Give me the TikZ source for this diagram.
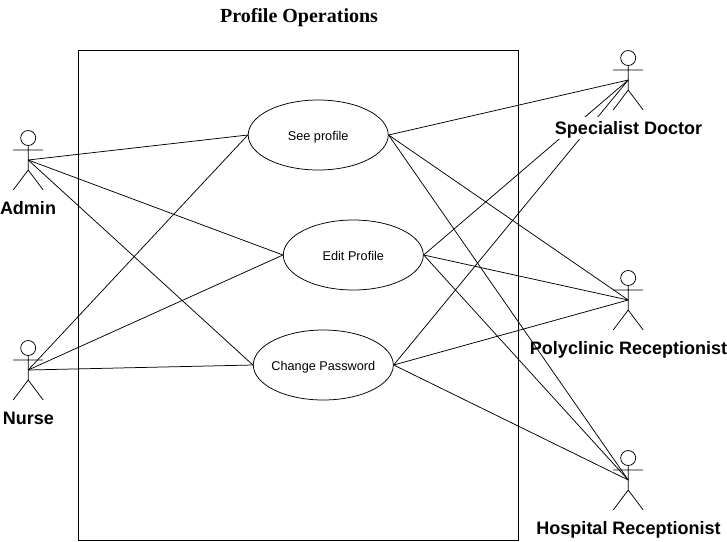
\documentclass[tikz,border=0pt]{standalone}
\usepackage{fontspec}
\usetikzlibrary{shapes.geometric}
\setmainfont{Liberation Sans}
\newfontfamily\serifb{Liberation Serif}
\tikzset{
  x=1pt,y=-1pt,
  line/.style={draw=black,line width=0.75pt},
  usecase/.style={ellipse,draw=black,line width=0.75pt,fill=white,inner ysep=0pt,inner xsep=-15pt,text height=10pt,text depth=0pt,minimum width=140pt,minimum height=70pt,font=\fontsize{12.7}{15}\selectfont},
  actorlabel/.style={inner sep=1pt,anchor=base,font=\fontsize{18}{21}\selectfont\bfseries},
  actor/.pic={
    \draw[line] (0,8) circle[radius=7.5];
    \draw[line] (0,15.5) -- (0,40) (-15,20) -- (15,20) (-15,60) -- (0,40) -- (15,60);
  }
}
\begin{document}
\begin{tikzpicture}
\useasboundingbox (0,0) rectangle (727,541);
\node[anchor=base,font=\fontsize{20}{24}\selectfont\serifb\bfseries] (title) at (299,22.5) {Profile Operations};
\node[draw=black,line width=0.75pt,minimum width=440pt,minimum height=490pt,inner sep=0pt] (system) at (298.6,295.6) {};
\pic at (28.2,130) {actor};
\pic at (28.2,340) {actor};
\pic at (628.2,50) {actor};
\pic at (628.2,270) {actor};
\pic at (628.2,450) {actor};
\coordinate (admin) at (28.2,160);
\coordinate (nurse) at (28.2,370);
\coordinate (doc) at (628.2,80);
\coordinate (poly) at (628.2,300);
\coordinate (hosp) at (628.2,480);
\node[usecase] (see) at (318.2,135) {See profile};
\node[usecase] (edit) at (353.3,255) {Edit Profile};
\node[usecase] (pwd) at (323.3,365) {Change Password};
\foreach \a/\b in {admin/see.west,admin/edit.west,admin/pwd.west,nurse/see.west,nurse/edit.west,nurse/pwd.west,
  doc/see.east,doc/edit.east,doc/pwd.east,poly/see.east,poly/edit.east,poly/pwd.east,hosp/see.east,hosp/edit.east,hosp/pwd.east}
  \draw[line] (\a) -- (\b);
\node[actorlabel] (l1) at (28,214.5) {Admin};
\node[actorlabel] (l2) at (28.5,424.4) {Nurse};
\fill[white] (555,117) rectangle (702,139);
\node[actorlabel] (l3) at (628.5,134.4) {Specialist Doctor};
\node[actorlabel] (l4) at (628.5,354.4) {Polyclinic Receptionist};
\node[actorlabel] (l5) at (628.5,534.4) {Hospital Receptionist};
\end{tikzpicture}
\end{document}
